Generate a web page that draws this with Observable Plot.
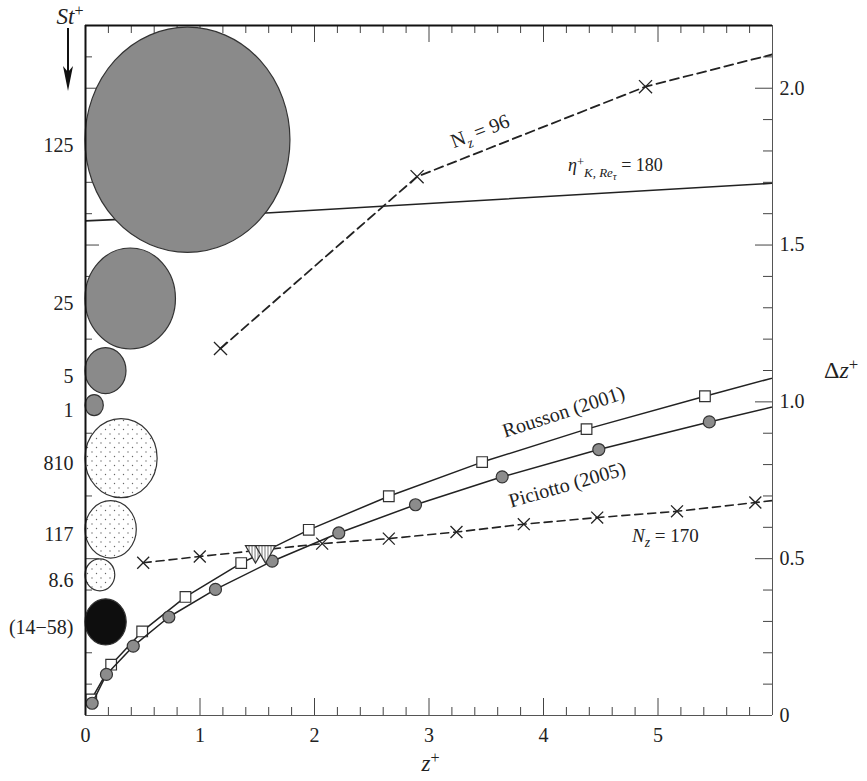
<!DOCTYPE html>
<html>
<head>
<meta charset="utf-8">
<script src="https://cdn.jsdelivr.net/npm/d3@7"></script>
<script src="https://cdn.jsdelivr.net/npm/@observablehq/plot@0.6"></script>
<style>
  body { margin: 0; background: #fff; }
  #chart svg { display: block; }
  #chart svg, #chart svg text { font-family: "Liberation Serif", "DejaVu Serif", serif; }
</style>
</head>
<body>
<div id="chart"></div>
<script>
// ---------------- data ----------------
// particle Stokes numbers (left legend column), drawn as ellipses touching z+=0
const stLabels = ["125", "25", "5", "1", "810", "117", "8.6", "(14\u221258)"];
const stKind   = ["A", "A", "A", "A", "B", "B", "B", "C"];
const stCenter = [1.834, 1.328, 1.098, 0.988, 0.819, 0.592, 0.447, 0.297]; // Δz+ of centre
const stWidth  = [1.79, 0.79, 0.358, 0.16, 0.63, 0.448, 0.26, 0.36];       // extent in z+
const stHeight = [0.718, 0.322, 0.147, 0.067, 0.252, 0.183, 0.102, 0.147]; // extent in Δz+

// Rousson (2001) – squares
const rousonZ  = [0.05, 0.224, 0.495, 0.873, 1.36, 1.95, 2.649, 3.464, 4.376, 5.41, 6.55];
const rousonDz = [0.051, 0.162, 0.268, 0.378, 0.486, 0.592, 0.699, 0.808, 0.913, 1.018, 1.13];

// Piciotto (2005) – grey circles
const picZ  = [0.058, 0.183, 0.417, 0.728, 1.135, 1.63, 2.212, 2.882, 3.639, 4.483, 5.448, 6.52];
const picDz = [0.039, 0.131, 0.221, 0.314, 0.402, 0.492, 0.582, 0.672, 0.761, 0.848, 0.936, 1.029];

// N_z = 96 grid – dashed, crosses
const n96Z  = [1.179, 2.896, 4.891, 7.1];
const n96Dz = [1.170, 1.718, 2.005, 2.21];

// N_z = 170 grid – dashed, crosses
const n170Z  = [0.504, 0.998, 2.067, 2.649, 3.24, 3.828, 4.469, 5.166, 5.85, 6.55];
const n170Dz = [0.487, 0.507, 0.548, 0.564, 0.585, 0.610, 0.631, 0.651, 0.679, 0.708];

// Kolmogorov scale η_K+ at Re_τ = 180 – solid line
const etaZ  = [0, 1.616, 6];
const etaDz = [1.577, 1.603, 1.697];

// open triangles near z+ ≈ 1.5
const triZ  = [1.485, 1.572];
const triDz = [0.523, 0.523];

// ticks
const xMajor = [0, 1, 2, 3, 4, 5];
const xMinor = [0.2,0.4,0.6,0.8,1.2,1.4,1.6,1.8,2.2,2.4,2.6,2.8,3.2,3.4,3.6,3.8,4.2,4.4,4.6,4.8,5.2,5.4,5.6,5.8];
const yMajor = [0, 0.5, 1, 1.5, 2];
const yMinor = [0.1,0.2,0.3,0.4,0.6,0.7,0.8,0.9,1.1,1.2,1.3,1.4,1.6,1.7,1.8,1.9,2.1];

// ---------------- tables ----------------
const zip = (xs, ys) => xs.map((x, i) => ({x, y: ys[i]}));
const rouson = zip(rousonZ, rousonDz);
const pic = zip(picZ, picDz);
const n96 = zip(n96Z, n96Dz);
const n170 = zip(n170Z, n170Dz);
const eta = zip(etaZ, etaDz);
const tri = zip(triZ, triDz);
const particles = stLabels.map((label, i) => ({label, kind: stKind[i], c: stCenter[i], w: stWidth[i], h: stHeight[i]}));

// ---------------- layout ----------------
const W = 867, H = 781;
const mL = 85, mR = 95, mT = 25, mB = 66;
const innerW = W - mL - mR, innerH = H - mT - mB;
const FONT = "Liberation Serif, DejaVu Serif, serif";
const INK = "#222";

const NS = "http://www.w3.org/2000/svg";
const el = (n, attrs = {}) => {
  const e = document.createElementNS(NS, n);
  for (const k in attrs) e.setAttribute(k, attrs[k]);
  return e;
};

// rich text: parts [{t, i (italic), sub, sup, subsub, dx}]
function richNode(parts, size, anchor) {
  const t = el("text", {"font-size": size, "text-anchor": anchor || "start", fill: INK});
  t.style.fontFamily = FONT;
  let cur = 0;
  for (const p of parts) {
    let off = 0, fs = size;
    if (p.sub) { off = 0.28 * size; fs = 0.72 * size; }
    if (p.sup) { off = -0.33 * size; fs = 0.7 * size; }
    if (p.subsub) { off = 0.46 * size; fs = 0.6 * size; }
    const s = el("tspan", {"font-size": fs});
    if (p.i) s.setAttribute("font-style", "italic");
    if (off !== cur) s.setAttribute("dy", off - cur);
    if (p.dx) s.setAttribute("dx", p.dx);
    cur = off;
    s.textContent = p.t;
    t.appendChild(s);
  }
  return t;
}

// annotations in data coordinates
const annotations = [
  {x: 3.47, y: 1.842, rotate: -21, size: 20, anchor: "middle",
   parts: [{t: "N"}, {t: "z", i: 1, sub: 1}, {t: " = 96"}]},
  {x: 4.218, y: 1.733, rotate: 0, size: 18, anchor: "start",
   parts: [{t: "\u03b7", i: 1}, {t: "+", sup: 1}, {t: "K, ", i: 1, sub: 1}, {t: "Re", i: 1, sub: 1}, {t: "\u03c4", i: 1, subsub: 1}, {t: " = 180"}]},
  {x: 3.668, y: 0.884, rotate: -18, size: 20, anchor: "start",
   parts: [{t: "Rousson (2001)"}]},
  {x: 3.72, y: 0.661, rotate: -16, size: 20, anchor: "start",
   parts: [{t: "Piciotto (2005)"}]},
  {x: 4.777, y: 0.552, rotate: 0, size: 19, anchor: "start",
   parts: [{t: "N", i: 1}, {t: "z", i: 1, sub: 1}, {t: " = 170"}]}
];

function annotationMark(index, scales) {
  const g = el("g");
  for (const a of annotations) {
    const t = richNode(a.parts, a.size, a.anchor);
    t.setAttribute("transform", `translate(${scales.x(a.x)},${scales.y(a.y)}) rotate(${a.rotate})`);
    g.appendChild(t);
  }
  return g;
}

// axis titles and St+ arrow in the margins
function marginMark() {
  const g = el("g");
  const st = richNode([{t: "St", i: 1}, {t: "+", sup: 1}], 23, "middle");
  st.setAttribute("transform", `translate(${mL - 15},${mT - 1})`);
  g.appendChild(st);
  const ax = mL - 17;
  g.appendChild(el("line", {x1: ax, y1: mT + 3, x2: ax, y2: mT + 52, stroke: "#111", "stroke-width": 2}));
  g.appendChild(el("path", {d: `M${ax - 5},${mT + 41} L${ax},${mT + 66} L${ax + 5},${mT + 41} L${ax},${mT + 47} Z`, fill: "#111"}));
  const zl = richNode([{t: "z", i: 1}, {t: "+", sup: 1}], 23, "middle");
  zl.setAttribute("transform", `translate(${mL + innerW / 2 + 2},${H - 10})`);
  g.appendChild(zl);
  const dl = richNode([{t: "\u0394"}, {t: "z", i: 1}, {t: "+", sup: 1}], 24, "start");
  dl.setAttribute("transform", `translate(${W - mR + 52},${mT + 353})`);
  g.appendChild(dl);
  return g;
}

// particle ellipses
function particleMark(index, scales) {
  const {x, y} = scales;
  const g = el("g");
  const defs = el("defs");
  const pat = el("pattern", {id: "dotpat", width: 9, height: 9, patternUnits: "userSpaceOnUse"});
  pat.appendChild(el("rect", {width: 9, height: 9, fill: "#fff"}));
  pat.appendChild(el("circle", {cx: 2, cy: 2, r: 0.7, fill: "#666"}));
  pat.appendChild(el("circle", {cx: 6.5, cy: 6.5, r: 0.7, fill: "#666"}));
  defs.appendChild(pat);
  const hat = el("pattern", {id: "hatpat", width: 3, height: 3, patternUnits: "userSpaceOnUse"});
  hat.appendChild(el("rect", {width: 3, height: 3, fill: "#fff"}));
  hat.appendChild(el("rect", {width: 1, height: 3, fill: "#777"}));
  defs.appendChild(hat);
  g.appendChild(defs);
  const fills = {A: "#8a8a8a", B: "url(#dotpat)", C: "#0e0e0e"};
  for (const p of particles) {
    const x0 = x(0), x1 = x(p.w);
    const yt = y(p.c + p.h / 2), yb = y(p.c - p.h / 2);
    g.appendChild(el("ellipse", {
      cx: (x0 + x1) / 2, cy: (yt + yb) / 2, rx: (x1 - x0) / 2, ry: (yb - yt) / 2,
      fill: fills[p.kind], stroke: "#333", "stroke-width": 1.2
    }));
  }
  return g;
}

const tickStroke = "#444";

const chart = Plot.plot({
  width: W, height: H,
  marginLeft: mL, marginRight: mR, marginTop: mT, marginBottom: mB,
  x: {domain: [0, 6]},
  y: {domain: [0, 2.2]},
  style: {fontFamily: FONT, fontSize: "19px", color: INK, background: "#fff", overflow: "visible"},
  marks: [
    // inward ticks on four sides
    Plot.ruleX(xMinor, {x: d => d, insetTop: innerH - 8, stroke: tickStroke}),
    Plot.ruleX(xMajor.slice(1), {x: d => d, insetTop: innerH - 17, stroke: tickStroke}),
    Plot.ruleX(xMinor, {x: d => d, insetBottom: innerH - 8, stroke: tickStroke}),
    Plot.ruleX(xMajor.slice(1), {x: d => d, insetBottom: innerH - 17, stroke: tickStroke}),
    Plot.ruleY(yMinor, {y: d => d, insetLeft: innerW - 9, stroke: tickStroke}),
    Plot.ruleY(yMajor.slice(1), {y: d => d, insetLeft: innerW - 17, stroke: tickStroke}),
    Plot.ruleY(yMinor, {y: d => d, insetRight: innerW - 7, stroke: tickStroke}),
    Plot.ruleY(yMajor.slice(1), {y: d => d, insetRight: innerW - 14, stroke: tickStroke}),
    Plot.axisX({ticks: xMajor, tickSize: 0, tickPadding: 12, label: null, fontSize: 20,
                tickFormat: d => String(d)}),
    Plot.axisY({anchor: "right", ticks: yMajor, tickSize: 0, tickPadding: 7, label: null, fontSize: 20,
                tickFormat: d => d === 0 ? "0" : d.toFixed(1)}),
    // Kolmogorov line (behind big particle)
    Plot.line(eta, {x: "x", y: "y", stroke: INK, strokeWidth: 1.6, clip: true}),
    particleMark,
    // grid spacing lines
    Plot.line(n96, {x: "x", y: "y", stroke: INK, strokeWidth: 1.8, strokeDasharray: "9,5", clip: true}),
    Plot.dot(n96, {x: "x", y: "y", symbol: "times", r: 6, stroke: INK, strokeWidth: 1.3, clip: true}),
    Plot.line(n170, {x: "x", y: "y", stroke: INK, strokeWidth: 1.6, strokeDasharray: "8,5", clip: true}),
    Plot.dot(n170, {x: "x", y: "y", symbol: "times", r: 5.5, stroke: INK, strokeWidth: 1.3, clip: true}),
    // data series
    Plot.line(rouson, {x: "x", y: "y", stroke: INK, strokeWidth: 1.5, clip: true}),
    Plot.dot(rouson, {x: "x", y: "y", symbol: "square", r: 6, fill: "#fff", stroke: "#333", strokeWidth: 1.2, clip: true}),
    Plot.line(pic, {x: "x", y: "y", stroke: INK, strokeWidth: 1.5, clip: true}),
    Plot.dot(pic, {x: "x", y: "y", r: 6, fill: "#8c8c8c", stroke: "#333", strokeWidth: 1.2, clip: true}),
    Plot.dot(tri, {x: "x", y: "y", symbol: "triangle", rotate: 180, r: 7.5, fill: "url(#hatpat)", stroke: "#333", strokeWidth: 1.2}),
    // St+ labels at left
    Plot.text(particles, {x: () => 0, y: "c", text: "label", dx: -12, dy: 5, textAnchor: "end", fontSize: 20, fill: INK}),
    annotationMark,
    marginMark,
    // frame
    Plot.ruleY([0], {stroke: "#555", strokeWidth: 1}),
    Plot.ruleX([6], {stroke: "#555", strokeWidth: 1}),
    Plot.ruleY([2.2], {stroke: "#111", strokeWidth: 2}),
    Plot.ruleX([0], {stroke: "#111", strokeWidth: 2})
  ]
});

document.getElementById("chart").appendChild(chart);
</script>
</body>
</html>
